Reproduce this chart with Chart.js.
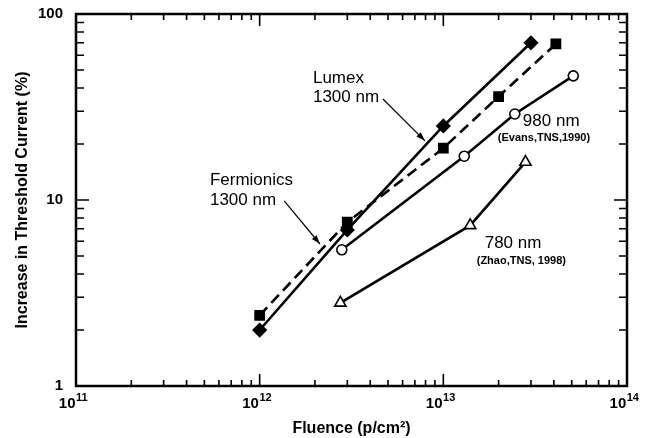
<!DOCTYPE html>
<html><head><meta charset="utf-8">
<script src="https://cdn.jsdelivr.net/npm/chart.js@4/dist/chart.umd.min.js"></script>
<style>html,body{margin:0;padding:0;background:#fff}</style>
</head><body>
<canvas id="c" width="647" height="438"></canvas>
<script>
// ---- data ----
const lumexX = [1e12, 3e12, 1e13, 3e13];
const lumexY = [2.0, 6.9, 25, 70];
const fermX  = [1e12, 3e12, 1e13, 2e13, 4.1e13];
const fermY  = [2.4, 7.6, 19, 36, 69];
const nm980X = [2.8e12, 1.3e13, 2.45e13, 5.1e13];
const nm980Y = [5.4, 17.2, 29, 46.5];
const nm780X = [2.75e12, 1.4e13, 2.8e13];
const nm780Y = [2.8, 7.3, 16];
const xTickValues = [1e11, 1e12, 1e13, 1e14];
const xTickBase = '10';
const xTickExponents = ['11', '12', '13', '14'];
const yTickValues = [1, 10, 100];
const yTickLabels = ['1', '10', '100'];

const pts = (xs, ys) => xs.map((x, i) => ({x: x, y: ys[i]}));
const FONT = '"Liberation Sans", Arial, sans-serif';

// annotation texts anchored in data coordinates
const notes = [
  {x: 1.95e12, y: 42.5, lines: ['Lumex', '1300 nm'], font: '17px ' + FONT, lh: 19},
  {x: 5.36e11, y: 12.0, lines: ['Fermionics', '1300 nm'], font: '17px ' + FONT, lh: 20},
  {x: 2.71e13, y: 25.0, lines: ['980 nm'], font: '17px ' + FONT, lh: 18},
  {x: 1.98e13, y: 20.8, lines: ['(Evans,TNS,1990)'], font: 'bold 11px ' + FONT, lh: 12},
  {x: 1.68e13, y: 5.52, lines: ['780 nm'], font: '17px ' + FONT, lh: 18},
  {x: 1.52e13, y: 4.53, lines: ['(Zhao,TNS, 1998)'], font: 'bold 11px ' + FONT, lh: 12}
];
const arrows = [
  {x1: 4.69e12, y1: 34.9, x2: 7.94e12, y2: 20.8},
  {x1: 1.36e12, y1: 9.88, x2: 2.13e12, y2: 5.80}
];

const framePlugin = {
  id: 'frame',
  afterDatasetsDraw(chart) {
    const ctx = chart.ctx, a = chart.chartArea, xs = chart.scales.x, ys = chart.scales.y;
    ctx.save();
    ctx.strokeStyle = '#000';
    // ticks
    ctx.lineWidth = 1.6;
    ctx.beginPath();
    for (let d = 11; d <= 14; d++) {
      for (let m = 1; m <= 9; m++) {
        const v = m * Math.pow(10, d);
        if (v > 1e14 || (d === 11 && m === 1) || (d === 14 && m === 1)) continue;
        const px = xs.getPixelForValue(v);
        const len = m === 1 ? 12 : 6;
        ctx.moveTo(px, a.bottom); ctx.lineTo(px, a.bottom - len);
        ctx.moveTo(px, a.top); ctx.lineTo(px, a.top + len);
      }
    }
    for (let d = 0; d <= 2; d++) {
      for (let m = 1; m <= 9; m++) {
        const v = m * Math.pow(10, d);
        if (v >= 100 || (d === 0 && m === 1)) continue;
        const py = ys.getPixelForValue(v);
        const len = m === 1 ? 13 : 8;
        ctx.moveTo(a.left, py); ctx.lineTo(a.left + len, py);
        ctx.moveTo(a.right, py); ctx.lineTo(a.right - len, py);
      }
    }
    ctx.stroke();
    // frame
    ctx.lineWidth = 2.5;
    ctx.strokeRect(a.left, a.top, a.right - a.left, a.bottom - a.top);
    // x tick labels with superscript exponents
    ctx.fillStyle = '#000';
    ctx.textBaseline = 'alphabetic';
    ctx.textAlign = 'left';
    xTickValues.forEach((v, i) => {
      const px = xs.getPixelForValue(v);
      ctx.font = 'bold 15px ' + FONT;
      const w1 = ctx.measureText(xTickBase).width;
      ctx.font = 'bold 11px ' + FONT;
      const w2 = ctx.measureText(xTickExponents[i]).width;
      const x0 = px - 3 - (w1 + w2) / 2;
      ctx.font = 'bold 15px ' + FONT;
      ctx.fillText(xTickBase, x0, a.bottom + 22);
      ctx.font = 'bold 11px ' + FONT;
      ctx.fillText(xTickExponents[i], x0 + w1 + 0.5, a.bottom + 15);
    });
    // annotations
    notes.forEach(n => {
      ctx.font = n.font;
      const px = xs.getPixelForValue(n.x), py = ys.getPixelForValue(n.y);
      n.lines.forEach((t, i) => ctx.fillText(t, px, py + i * n.lh));
    });
    ctx.lineWidth = 1.2;
    arrows.forEach(r => {
      const x1 = xs.getPixelForValue(r.x1), y1 = ys.getPixelForValue(r.y1);
      const x2 = xs.getPixelForValue(r.x2), y2 = ys.getPixelForValue(r.y2);
      ctx.beginPath(); ctx.moveTo(x1, y1); ctx.lineTo(x2, y2); ctx.stroke();
      const ang = Math.atan2(y2 - y1, x2 - x1), L = 9, W = 3;
      ctx.beginPath();
      ctx.moveTo(x2, y2);
      ctx.lineTo(x2 - L * Math.cos(ang) + W * Math.sin(ang), y2 - L * Math.sin(ang) - W * Math.cos(ang));
      ctx.lineTo(x2 - L * Math.cos(ang) - W * Math.sin(ang), y2 - L * Math.sin(ang) + W * Math.cos(ang));
      ctx.closePath(); ctx.fill();
    });
    ctx.restore();
  }
};

const base = {showLine: true, borderColor: '#000', borderWidth: 2.6, pointBorderColor: '#000', pointBorderWidth: 1.6, tension: 0};

new Chart(document.getElementById('c'), {
  type: 'scatter',
  data: {
    datasets: [
      Object.assign({}, base, {label: 'Lumex 1300 nm', data: pts(lumexX, lumexY), pointStyle: 'rectRot', pointRadius: 6.5, pointBackgroundColor: '#000'}),
      Object.assign({}, base, {label: 'Fermionics 1300 nm', data: pts(fermX, fermY), pointStyle: 'rect', pointRadius: 6.5, pointBackgroundColor: '#000', borderDash: [11, 6]}),
      Object.assign({}, base, {label: '980 nm', data: pts(nm980X, nm980Y), pointStyle: 'circle', pointRadius: 5, pointBackgroundColor: '#fff'}),
      Object.assign({}, base, {label: '780 nm', data: pts(nm780X, nm780Y), pointStyle: 'triangle', pointRadius: 6.5, pointBackgroundColor: '#fff'})
    ]
  },
  options: {
    responsive: false, animation: false, devicePixelRatio: 1,
    layout: {padding: {top: 14, right: 20, left: 0, bottom: 0}},
    plugins: {legend: {display: false}, tooltip: {enabled: false}},
    scales: {
      x: {
        type: 'logarithmic', min: 1e11, max: 1e14,
        afterBuildTicks: s => { s.ticks = xTickValues.map(v => ({value: v})); },
        afterFit: s => { s.height = 52; },
        grid: {display: false}, border: {display: false},
        ticks: {display: false},
        title: {display: true, text: 'Fluence (p/cm\u00B2)', color: '#000', padding: {top: 2, bottom: 0},
          font: {family: FONT, size: 16, weight: 'bold'}}
      },
      y: {
        type: 'logarithmic', min: 1, max: 100,
        afterBuildTicks: s => { s.ticks = yTickValues.map(v => ({value: v})); },
        afterFit: s => { s.width = 76; },
        grid: {display: false}, border: {display: false},
        ticks: {color: '#000', autoSkip: false, padding: 5,
          font: {family: FONT, size: 15, weight: 'bold'},
          callback: (v, i) => yTickLabels[i]},
        title: {display: true, text: 'Increase in Threshold Current (%)', color: '#000', padding: {top: 13, bottom: 0},
          font: {family: FONT, size: 16, weight: 'bold'}}
      }
    }
  },
  plugins: [framePlugin]
});
</script>
</body></html>
